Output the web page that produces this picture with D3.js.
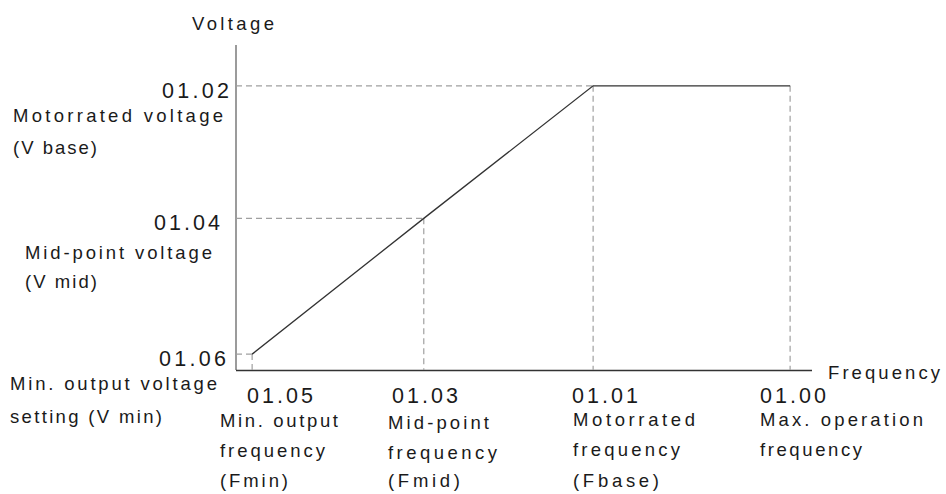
<!DOCTYPE html>
<html>
<head>
<meta charset="utf-8">
<script src="https://cdn.jsdelivr.net/npm/d3@7"></script>
<style>
  html, body { margin: 0; padding: 0; background: #fff; }
  svg { display: block; }
  text { font-family: "Liberation Sans", Arial, sans-serif; fill: #1a1a1a; }
</style>
</head>
<body>
<svg id="chart" width="946" height="494"></svg>
<script>
// ---- data ----
const freqCodes   = ["01.05", "01.03", "01.01", "01.00"];
const freqValues  = [0.28, 3.26, 6.2, 9.62];          // Fmin, Fmid, Fbase, Fmax
const freqLabels  = [
  ["Min. output", "frequency", "(Fmin)"],
  ["Mid-point", "frequency", "(Fmid)"],
  ["Motorrated", "frequency", "(Fbase)"],
  ["Max. operation", "frequency"]
];
const voltCodes   = ["01.02", "01.04", "01.06"];
const voltValues  = [8.77, 4.68, 0.49];               // Vbase, Vmid, Vmin
const voltLabels  = [
  ["Motorrated voltage", "(V base)"],
  ["Mid-point voltage", "(V mid)"],
  ["Min. output voltage", "setting (V min)"]
];
const curveFreq   = [0.28, 3.26, 6.2, 9.62];
const curveVolt   = [0.49, 4.68, 8.77, 8.77];

// ---- layout ----
const svg = d3.select("#chart");
const x = d3.scaleLinear().domain([0, 10]).range([236, 812]);
const y = d3.scaleLinear().domain([0, 10]).range([370, 46]);

// axes
svg.append("line").attr("x1", x(0)).attr("x2", x(0)).attr("y1", 45).attr("y2", y(0))
  .attr("stroke", "#7a7a7a").attr("stroke-width", 1.5);
svg.append("line").attr("x1", x(0)).attr("x2", x(10)).attr("y1", y(0) + 0.5).attr("y2", y(0) + 0.5)
  .attr("stroke", "#333").attr("stroke-width", 1.3);

// dashed guides
const dash = "6,4";
const guideColor = "#a0a0a0";
const hPairs = [[voltValues[0], freqValues[2]], [voltValues[1], freqValues[1]], [voltValues[2], freqValues[0]]];
hPairs.forEach(([v, f]) => {
  svg.append("line").attr("x1", x(0)).attr("x2", x(f)).attr("y1", y(v)).attr("y2", y(v))
    .attr("stroke", guideColor).attr("stroke-width", 1.2).attr("stroke-dasharray", dash);
});
const vPairs = [[freqValues[0], voltValues[2]], [freqValues[1], voltValues[1]], [freqValues[2], voltValues[0]], [freqValues[3], voltValues[0]]];
vPairs.forEach(([f, v]) => {
  svg.append("line").attr("x1", x(f)).attr("x2", x(f)).attr("y1", y(v)).attr("y2", y(0))
    .attr("stroke", guideColor).attr("stroke-width", 1.2).attr("stroke-dasharray", dash);
});

// curve
const pts = curveFreq.map((f, i) => [f, curveVolt[i]]);
svg.append("path").datum(pts)
  .attr("d", d3.line().x(d => x(d[0])).y(d => y(d[1])))
  .attr("fill", "none").attr("stroke", "#333").attr("stroke-width", 1.3);

function txt(str, tx, ty, size, width, anchor) {
  const t = svg.append("text").attr("x", tx).attr("y", ty).attr("font-size", size).text(str);
  if (anchor) t.attr("text-anchor", anchor);
  if (width) t.attr("textLength", width).attr("lengthAdjust", "spacing");
  return t;
}

// axis titles
txt("Voltage", 192, 30, 18.5, 82);
txt("Frequency", 828, 379, 18.5, 112);

// y codes + labels
const yCodeRight = [229, 220, 226];
const yCodeW = [67, 66, 67];
const yLabelX = [13, 25, 10];
const yLabelW = [[210, 84], [187, 72], [207, 152]];
const yLabelDy = [[24, 56], [29, 58], [24, 57]];
voltCodes.forEach((c, i) => {
  const by = y(voltValues[i]) + 12;
  txt(c, yCodeRight[i] - yCodeW[i], by, 21.5, yCodeW[i]);
  voltLabels[i].forEach((l, j) => {
    txt(l, yLabelX[i], by + yLabelDy[i][j], 18.5, yLabelW[i][j]);
  });
});

// x codes + labels
const xCodeX = [247, 392, 572, 760];
const xLabelX = [220, 388, 573, 760];
const xLabelW = [[118, 105, 68], [101, 109, 72], [122, 107, 86], [163, 102]];
const xLineY = [[427, 457, 487], [429, 459, 487], [426, 456, 487], [426, 456]];
freqCodes.forEach((c, i) => {
  txt(c, xCodeX[i], 403, 21.5, 66);
  freqLabels[i].forEach((l, j) => {
    txt(l, xLabelX[i], xLineY[i][j], 18.5, xLabelW[i][j]);
  });
});
</script>
</body>
</html>
